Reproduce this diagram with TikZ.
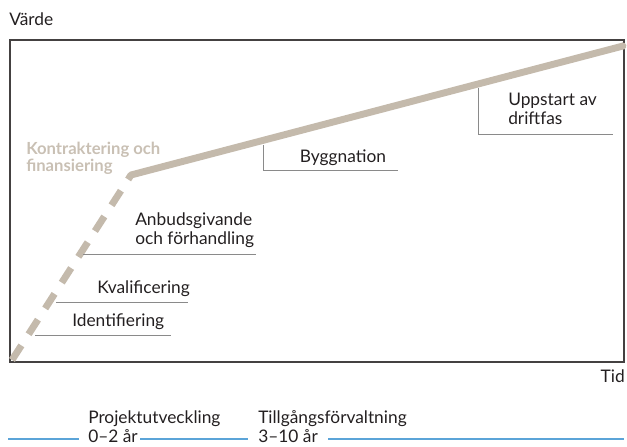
\documentclass[tikz,border=0pt]{standalone}
\usepackage{fontspec}
\setmainfont{Lato}
\begin{document}
\begin{tikzpicture}[x=0.75pt,y=-0.75pt,
  lbl/.style={font=\fontsize{13}{14.3}\selectfont, text=txt, inner sep=0pt},
  phase/.style={draw=rulegray, line width=0.6pt},
  curve/.style={draw=beige, line width=5.2pt},
  period/.style={draw=blueline, line width=1.2pt}]
\definecolor{txt}{HTML}{231F20}
\definecolor{beige}{HTML}{C4BAAC}
\definecolor{beigetext}{HTML}{C9C0B4}
\definecolor{rulegray}{HTML}{8A8A8A}
\definecolor{blueline}{HTML}{5BA4D8}
\useasboundingbox (0,0) rectangle (627,446);

% axes frame
\draw[line width=0.8pt, draw=txt!85] (10,40) rectangle (624,362);
\node[lbl, anchor=west] (varde) at (9,19) {Värde};
\node[lbl, anchor=east] (tid) at (625,376) {Tid};

% value curve
\coordinate (start) at (12,360);
\coordinate (knee) at (131,175);
\coordinate (end) at (623,46);
\draw[curve, dash pattern=on 13pt off 10pt] (start) -- (knee);
\draw[curve, line cap=round] (knee) -- (end);
\draw[curve] (end) -- (624,45.7);

% contracting label
\node[font=\bfseries\fontsize{12.5}{13}\selectfont, text=beigetext, align=left, anchor=north west, inner sep=0pt] (kontr) at (26,142) {Kontraktering och\\finansiering};

% phase brackets along the curve
\node[lbl, anchor=center] (bygg) at (343,158) {Byggnation};
\draw[phase] (263,145) -- (263,170) -- (398,170);
\node[lbl, align=left, anchor=north west] (uppstart) at (508,93) {Uppstart av\\driftfas};
\draw[phase] (478,88) -- (478,134) -- (613,134);

% early phases
\node[lbl, align=left, anchor=north west] (anbud) at (135,212) {Anbudsgivande\\och förhandling};
\draw[phase] (83,254) -- (256,254);
\node[lbl, anchor=west] (kval) at (97,289) {Kvalificering};
\draw[phase] (56,302) -- (188,302);
\node[lbl, anchor=west] (ident) at (72,322) {Identifiering};
\draw[phase] (35,335) -- (171,335);

% timeline
\node[lbl, align=left, anchor=north west] (proj) at (88,410) {Projektutveckling\\0–2 år};
\node[lbl, align=left, anchor=north west] (tillg) at (258,410) {Tillgångsförvaltning\\3–10 år};
\coordinate (tl0) at (8,439);
\coordinate (tl1) at (79,439);
\coordinate (tl2) at (140,439);
\coordinate (tl3) at (248,439);
\coordinate (tl4) at (328,439);
\coordinate (tl5) at (624,439);
\draw[period] (tl0) -- (tl1);
\draw[period] (tl2) -- (tl3);
\draw[period] (tl4) -- (tl5);
\end{tikzpicture}
\end{document}
